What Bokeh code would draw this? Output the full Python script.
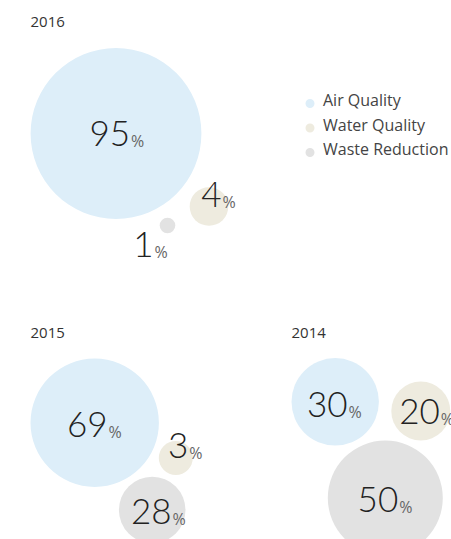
from bokeh.plotting import figure
from bokeh.models import ColumnDataSource, Range1d
from bokeh.core.properties import value
from bokeh.embed import file_html
from bokeh.resources import INLINE

# ---- data ----
years = ["2016", "2015", "2014"]
categories = ["Air Quality", "Water Quality", "Waste Reduction"]
values_2016 = [95, 4, 1]
values_2015 = [69, 3, 28]
values_2014 = [30, 20, 50]
series = [values_2016, values_2015, values_2014]

# ---- styles ----
colors = ["#DDEEF9", "#EEEBDF", "#E2E2E2"]
NUM_FONT = value("Lato Light, Lato")
TXT_FONT = value("Open Sans")
NUM_SHIFT = -12.5  # baseline correction for large numbers
PCT_SHIFT = -5     # baseline correction for percent signs
TXT_SHIFT = -6     # baseline correction for small text

# ---- layout (pixel space of the plot) ----
title_pos = [(30, 27), (30, 338), (291, 338)]
bubble_layout = [
    [(115.5, 133, 85.4), (208.5, 206, 19.3), (167, 225, 7.8)],
    [(94.2, 422.2, 64.2), (175.3, 457.5, 17), (151.7, 509.5, 33.3)],
    [(334.7, 401.3, 43.7), (420.3, 410.5, 29.5), (384.8, 497.5, 57.5)],
]
# label anchors: right edge of number, baseline
label_layout = [
    [(129.5, 145), (221, 206.7), (153, 256.7)],
    [(107, 436.7), (187.7, 457.7), (171, 523.3)],
    [(347, 416), (439.3, 423.3), (397.7, 511)],
]

W, H = 451, 539
p = figure(width=W, height=H, x_range=Range1d(0, W), y_range=Range1d(H, 0),
           output_backend="svg", toolbar_location=None, min_border=0,
           border_fill_color="white", background_fill_color="white")
p.outline_line_color = None
p.axis.visible = False
p.grid.visible = False

for yi, (yr, vals) in enumerate(zip(years, series)):
    tx, ty = title_pos[yi]
    p.text(x=[tx], y=[ty + TXT_SHIFT], text=[yr], text_font=TXT_FONT, text_font_size="15px",
           text_color="#333333", text_baseline="alphabetic", text_align="left")
    src = ColumnDataSource(dict(
        x=[b[0] for b in bubble_layout[yi]],
        y=[b[1] for b in bubble_layout[yi]],
        r=[b[2] for b in bubble_layout[yi]],
        color=colors,
        lx=[l[0] for l in label_layout[yi]],
        ly=[l[1] + NUM_SHIFT for l in label_layout[yi]],
        lx2=[l[0] + 1 for l in label_layout[yi]],
        ly2=[l[1] + PCT_SHIFT for l in label_layout[yi]],
        num=[str(v) for v in vals],
        pct=["%"] * len(vals),
    ))
    p.circle(x="x", y="y", radius="r", fill_color="color", line_color=None, source=src)
    p.text(x="lx", y="ly", text="num", source=src, text_font=NUM_FONT,
           text_font_size="35px", text_color="#222222",
           text_align="right", text_baseline="alphabetic")
    p.text(x="lx2", y="ly2", text="pct", source=src, text_font=TXT_FONT,
           text_font_size="16px", text_color="#666666",
           text_align="left", text_baseline="alphabetic")

# legend
leg_x, leg_y0, leg_dy = 309.5, 103, 24.5
leg_src = ColumnDataSource(dict(
    x=[leg_x] * 3,
    y=[leg_y0 + i * leg_dy for i in range(3)],
    tx=[leg_x + 13] * 3,
    ty=[leg_y0 + 4 + TXT_SHIFT - 1.5 + i * leg_dy for i in range(3)],
    label=categories,
    color=colors,
))
p.scatter(x="x", y="y", size=9, marker="circle", fill_color="color",
          line_color=None, source=leg_src)
p.text(x="tx", y="ty", text="label", source=leg_src, text_font=TXT_FONT,
       text_font_size="16px", text_color="#444444",
       text_align="left", text_baseline="alphabetic")

open("out.html", "w").write(file_html(p, INLINE))
